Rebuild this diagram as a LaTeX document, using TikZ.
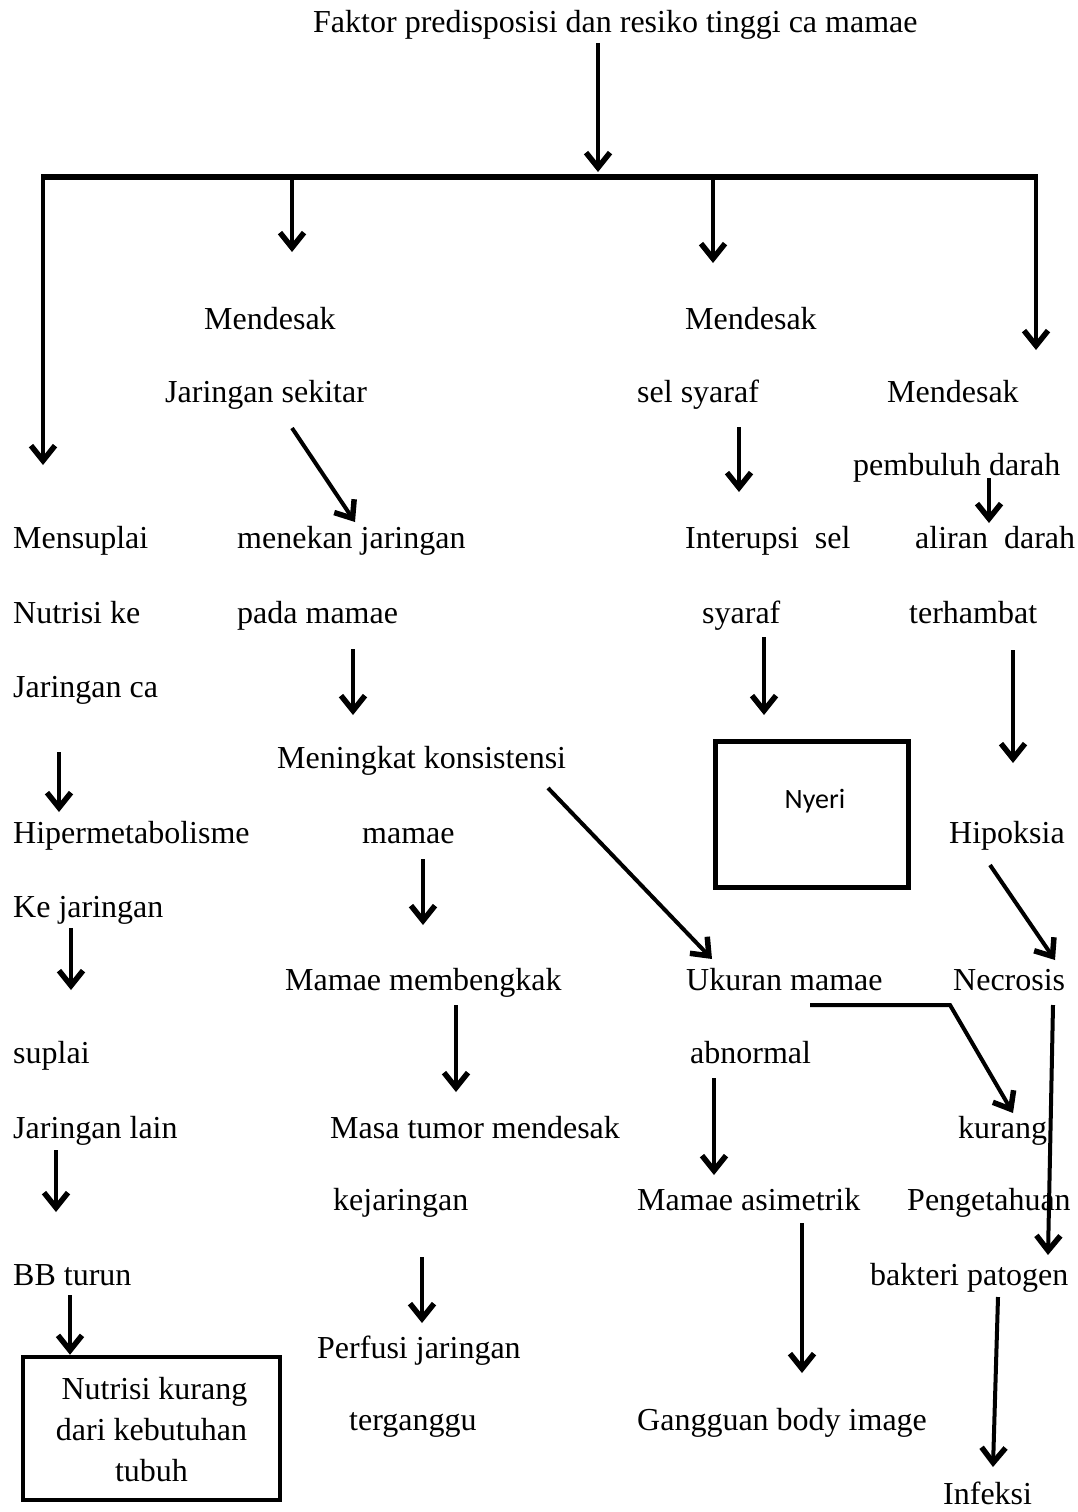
\documentclass[tikz,border=0pt]{standalone}
\usepackage{fontspec}
\setmainfont{Liberation Serif}
\newfontfamily\carl{Carlito}
\usetikzlibrary{arrows.meta}
\newcommand{\txf}{\fontsize{32}{41}\selectfont}
\tikzset{
  t/.style={anchor=base west, inner sep=0pt, font=\txf},
  arr/.style={line width=4pt, -{Straight Barb[length=15pt,width=24pt,line width=5.5pt]}},
  boxnode/.style={draw, line width=5pt, inner sep=0pt, align=center}
}
\begin{document}
\begin{tikzpicture}[x=1pt,y=-1pt]
\useasboundingbox (0,0) rectangle (1078,1512);
% text nodes
\node[t] (title) at (313,33) {Faktor predisposisi dan resiko tinggi ca mamae};
\node[t] (m1) at (204,329) {Mendesak};
\node[t] (js) at (165,402) {Jaringan sekitar};
\node[t] (m2) at (685,329) {Mendesak};
\node[t] (ss) at (637,402) {sel syaraf};
\node[t] (m3) at (887,402) {Mendesak};
\node[t] (pd) at (853,475) {pembuluh darah};
\node[t] (ms) at (13,548) {Mensuplai};
\node[t] (mj) at (237,548) {menekan jaringan};
\node[t] (is) at (685,548) {Interupsi\ \ sel};
\node[t] (ad) at (915,548) {aliran\ \ darah};
\node[t] (nk) at (13,623) {Nutrisi ke};
\node[t] (pm) at (237,623) {pada mamae};
\node[t] (sy) at (702,623) {syaraf};
\node[t] (th) at (909,623) {terhambat};
\node[t] (jc) at (13,697) {Jaringan ca};
\node[t] (mk) at (277,768) {Meningkat konsistensi};
\node[t] (hm) at (13,843) {Hipermetabolisme};
\node[t] (mm) at (362,843) {mamae};
\node[t] (hp) at (949,843) {Hipoksia};
\node[t] (kj) at (13,917) {Ke jaringan};
\node[t] (mb) at (285,990) {Mamae membengkak};
\node[t] (um) at (686,990) {Ukuran mamae};
\node[t] (nc) at (953,990) {Necrosis};
\node[t] (sp) at (13,1063) {suplai};
\node[t] (ab) at (690,1063) {abnormal};
\node[t] (jl) at (13,1138) {Jaringan lain};
\node[t] (mt) at (330,1138) {Masa tumor mendesak};
\node[t] (ku) at (958,1138) {kurang};
\node[t] (kjr) at (333,1210) {kejaringan};
\node[t] (ma) at (637,1210) {Mamae asimetrik};
\node[t] (pg) at (907,1210) {Pengetahuan};
\node[t] (bb) at (13,1285) {BB turun};
\node[t] (bp) at (870,1285) {bakteri patogen};
\node[t] (pj) at (317,1358) {Perfusi jaringan};
\node[t] (tg) at (349,1430) {terganggu};
\node[t] (gb) at (637,1430) {Gangguan body image};
\node[t] (inf) at (943,1504) {Infeksi};
% boxes
\node[boxnode, minimum width=193pt, minimum height=146pt, font=\carl\fontsize{28}{34}\selectfont] (nyeri) at (811.5,814) {\raisebox{13pt}[\height][\depth]{\hspace{7pt}Nyeri}};
\node[boxnode, line width=4.5pt, minimum width=257pt, minimum height=143pt, font=\txf] (nut) at (151.5,1428.5) {\raisebox{-4pt}[\height][\depth]{\begin{tabular}{@{}c@{}}\hspace{6pt}Nutrisi kurang\\dari kebutuhan\\tubuh\end{tabular}}};
% coordinates
\coordinate (bl) at (43,177);
\coordinate (br) at (1038,177);
\coordinate (t0) at (598,43);  \coordinate (t1) at (598,172);
\coordinate (l0) at (43,174);  \coordinate (l1) at (43,465);
\coordinate (r0) at (1036,174); \coordinate (r1) at (1036,350);
\coordinate (b1s) at (292,177); \coordinate (b1e) at (292,252);
\coordinate (b2s) at (713,177); \coordinate (b2e) at (713,263);
\coordinate (c1s) at (292,428); \coordinate (c1e) at (355,522);
\coordinate (c2s) at (739,427); \coordinate (c2e) at (739,492);
\coordinate (c3s) at (989,478); \coordinate (c3e) at (989,523);
\coordinate (c4s) at (353,649); \coordinate (c4e) at (353,715);
\coordinate (c5s) at (764,637); \coordinate (c5e) at (764,715);
\coordinate (c6s) at (1013,650); \coordinate (c6e) at (1013,763);
\coordinate (c7s) at (59,752); \coordinate (c7e) at (59,812);
\coordinate (c8s) at (548,788); \coordinate (c8e) at (712,959);
\coordinate (c9s) at (423,859); \coordinate (c9e) at (423,925);
\coordinate (c10s) at (990,865); \coordinate (c10e) at (1055,960);
\coordinate (c11s) at (71,928); \coordinate (c11e) at (71,990);
\coordinate (c12s) at (456,1005); \coordinate (c12e) at (456,1092);
\coordinate (p0) at (810,1005); \coordinate (p1) at (950,1005); \coordinate (p2) at (1013,1113);
\coordinate (c13s) at (1053,1005); \coordinate (c13e) at (1048,1255);
\coordinate (c14s) at (714,1078); \coordinate (c14e) at (714,1175);
\coordinate (c15s) at (56,1150); \coordinate (c15e) at (56,1212);
\coordinate (c16s) at (422,1257); \coordinate (c16e) at (422,1323);
\coordinate (c17s) at (802,1223); \coordinate (c17e) at (802,1373);
\coordinate (c18s) at (998,1297); \coordinate (c18e) at (993,1467);
\coordinate (c19s) at (70,1295);
% connectors
\draw[line width=6pt] (bl) -- (br);
\draw[arr] (t0) -- (t1);
\draw[arr, line width=3.5pt] (l0) -- (l1);
\draw[arr, line width=3.5pt] (r0) -- (r1);
\draw[arr] (b1s) -- (b1e);
\draw[arr] (b2s) -- (b2e);
\draw[arr] (c1s) -- (c1e);
\draw[arr] (c2s) -- (c2e);
\draw[arr] (c3s) -- (c3e);
\draw[arr] (c4s) -- (c4e);
\draw[arr] (c5s) -- (c5e);
\draw[arr] (c6s) -- (c6e);
\draw[arr] (c7s) -- (c7e);
\draw[arr] (c8s) -- (c8e);
\draw[arr] (c9s) -- (c9e);
\draw[arr] (c10s) -- (c10e);
\draw[arr] (c11s) -- (c11e);
\draw[arr] (c12s) -- (c12e);
\draw[arr] (p0) -- (p1) -- (p2);
\draw[arr] (c13s) -- (c13e);
\draw[arr] (c14s) -- (c14e);
\draw[arr] (c15s) -- (c15e);
\draw[arr] (c16s) -- (c16e);
\draw[arr] (c17s) -- (c17e);
\draw[arr] (c18s) -- (c18e);
\draw[arr] (c19s) -- (c19s |- nut.north);
\end{tikzpicture}
\end{document}
